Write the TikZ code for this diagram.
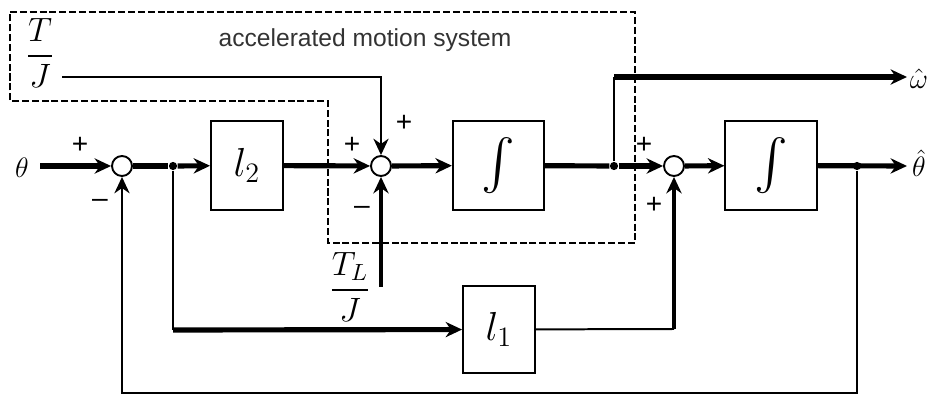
\documentclass[tikz,border=0pt]{standalone}
\usepackage{amsmath}
\usepackage{graphicx}
\usepackage{fontspec}
\newfontfamily\labelfont{Liberation Sans}
\usetikzlibrary{arrows.meta}

\tikzset{
  block/.style={draw, line width=0.8pt, minimum width=1.08cm, minimum height=1.335cm, inner sep=0pt, font=\LARGE},
  intblock/.style={block, minimum width=1.37cm},
  sumnode/.style={draw, circle, line width=0.8pt, minimum size=0.3cm, inner sep=0pt, fill=white},
  bigline/.style={line width=2.2pt},
  midline/.style={line width=1.4pt},
  thinline/.style={line width=0.85pt},
  sign/.style={font=\labelfont\large, inner sep=0pt},
  brdot/.style={circle, fill=black, inner sep=0pt, minimum size=3.5pt}
}
\newcommand{\bigint}{\scalebox{1.25}{$\int$}}

\begin{document}
\begin{tikzpicture}[x=0.015cm,y=-0.015cm,>={Stealth[length=7pt,width=6.5pt]}]
    \useasboundingbox (0,0) rectangle (930,396);

    % dashed frame round the accelerated motion part
    \draw[line width=1pt, dash pattern=on 3pt off 1.2pt] (10,12) -- (635,12) -- (635,243) -- (328,243) -- (328,101) -- (10,101) -- cycle;
    \node[font=\labelfont, text=black!80] (title) at (365,40) {\fontsize{10.5}{12}\selectfont accelerated motion system};

    % blocks and summing points
    \node[sumnode] (s1) at (122,166) {};
    \node[block] (l2) at (247,165.5) {$l_2$};
    \node[sumnode] (s2) at (381,166) {};
    \node[intblock] (int1) at (498.5,165.5) {\bigint};
    \node[sumnode] (s3) at (674,166) {};
    \node[intblock] (int2) at (771,165.5) {\bigint};
    \node[block, minimum height=1.3cm] (l1) at (499,329.5) {$l_1$};

    % inputs and outputs
    \node[font=\large] (theta) at (22,168) {$\theta$};
    \node[font=\large] (what) at (919,79) {$\hat{\omega}$};
    \node[font=\large] (that) at (919,163) {$\hat{\theta}$};
    \node[font=\Large] (tj) at (40,53) {$\dfrac{T}{J}$};
    \node[font=\Large] (tlj) at (350,287) {$\dfrac{T_L}{J}$};

    \coordinate (in) at (40,166);
    \node[brdot] (br1) at (173,166) {};
    \node[brdot] (br2) at (614,166) {};
    \node[brdot] (br3) at (857,166) {};
    \coordinate (wup) at (614,77);
    \coordinate (wend) at (907,77);
    \coordinate (tend) at (907,166);
    \coordinate (tjc) at (62,77);
    \coordinate (tlc) at (381,287);
    \coordinate (ldown) at (173,330);
    \coordinate (lright) at (674,329);
    \coordinate (fb) at (122,393);

    % forward path
    \draw[bigline,->] (in) -- (s1);
    \draw[bigline] (s1) -- (br1);
    \draw[bigline,->] (br1) -- (l2);
    \draw[bigline,->] (l2) -- (s2);
    \draw[bigline,->] (s2) -- (int1);
    \draw[bigline] (int1) -- (br2);
    \draw[bigline,->] (br2) -- (s3);
    \draw[bigline,->] (s3) -- (int2);
    \draw[bigline,->] (int2) -- (tend);

    % branches
    \draw[thinline] (br2) -- (wup);
    \draw[bigline,->] (wup) -- (wend);
    \draw[thinline] (br1) -- (ldown);
    \draw[bigline,->] (ldown) -- (l1);
    \draw[thinline] (l1) -- (lright);
    \draw[midline,->] (lright) -- (s3);
    \draw[thinline,->] (br3) |- (fb) -- (s1);

    % disturbance inputs
    \draw[thinline,->] (tjc) -| (s2);
    \draw[midline,->] (tlc) -- (s2);

    % signs
    \node[sign] (p1) at (80,145) {+};
    \node[sign] (m1) at (100,203) {\textendash};
    \node[sign] (p2) at (352,145) {+};
    \node[sign] (p3) at (404,123) {+};
    \node[sign] (m2) at (362,210) {\textendash};
    \node[sign] (p4) at (644,145) {+};
    \node[sign] (p5) at (654,205) {+};
\end{tikzpicture}
\end{document}
